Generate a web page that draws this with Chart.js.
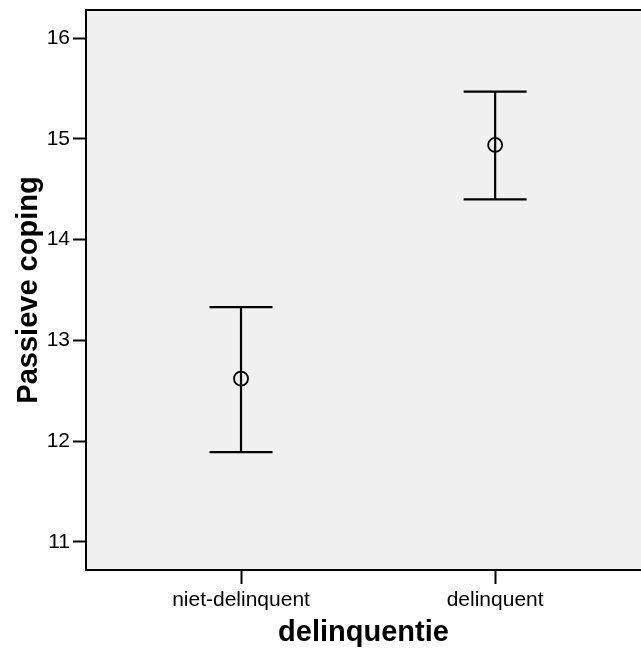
<!DOCTYPE html>
<html>
<head>
<meta charset="utf-8">
<script src="https://cdn.jsdelivr.net/npm/chart.js@4"></script>
<style>
  html, body { margin: 0; padding: 0; background: #fff; overflow: hidden; }
  canvas { display: block; }
</style>
</head>
<body>
<canvas id="grafico" width="641" height="650"></canvas>
<script>
const categorieen = ['niet-delinquent', 'delinquent'];
const gemiddelden = [12.62, 14.94];
const ondergrens = [11.89, 14.40];
const bovengrens = [13.33, 15.47];
const yTicks = [11, 12, 13, 14, 15, 16];

const fontFamily = '"Liberation Sans", Arial, sans-serif';

// achtergrond van het plotvlak + bovenrand
const kaderPlugin = {
  id: 'kader',
  beforeDraw(chart) {
    const { ctx, chartArea: a } = chart;
    ctx.save();
    ctx.fillStyle = '#f0f0f0';
    ctx.fillRect(a.left, a.top, a.right - a.left, a.bottom - a.top);
    ctx.restore();
  },
  afterDraw(chart) {
    const { ctx, chartArea: a } = chart;
    ctx.save();
    ctx.strokeStyle = '#000';
    ctx.lineWidth = 2;
    ctx.beginPath();
    ctx.moveTo(a.left - 1, a.top);
    ctx.lineTo(a.right, a.top);
    ctx.stroke();
    ctx.restore();
  }
};

// foutbalken uit onder- en bovengrens
const foutbalkPlugin = {
  id: 'foutbalk',
  beforeDatasetsDraw(chart) {
    const { ctx, scales: { x, y } } = chart;
    const halveKap = 31.5;
    ctx.save();
    ctx.strokeStyle = '#000';
    ctx.lineWidth = 2.2;
    categorieen.forEach((c, i) => {
      const px = x.getPixelForValue(i + 1);
      const yLaag = y.getPixelForValue(ondergrens[i]);
      const yHoog = y.getPixelForValue(bovengrens[i]);
      ctx.beginPath();
      ctx.moveTo(px, yLaag);
      ctx.lineTo(px, yHoog);
      ctx.moveTo(px - halveKap, yHoog);
      ctx.lineTo(px + halveKap, yHoog);
      ctx.moveTo(px - halveKap, yLaag);
      ctx.lineTo(px + halveKap, yLaag);
      ctx.stroke();
    });
    ctx.restore();
  }
};

const ctx = document.getElementById('grafico').getContext('2d');
const grafico = new Chart(ctx, {
  type: 'scatter',
  data: {
    datasets: [{
      label: 'Passieve coping',
      data: gemiddelden.map((v, i) => ({ x: i + 1, y: v })),
      pointRadius: 7,
      pointHoverRadius: 7,
      pointBorderWidth: 1.8,
      borderColor: '#000',
      backgroundColor: 'rgba(0,0,0,0)',
      pointStyle: 'circle'
    }]
  },
  options: {
    responsive: false,
    animation: false,
    layout: { autoPadding: false, padding: { top: 10, right: 0, bottom: 0, left: 0 } },
    plugins: { legend: { display: false }, tooltip: { enabled: false } },
    scales: {
      x: {
        type: 'linear',
        min: 0.39,
        max: 2.574,
        afterBuildTicks: (scale) => { scale.ticks = categorieen.map((c, i) => ({ value: i + 1 })); },
        afterFit: (scale) => { scale.height = 80; scale.paddingLeft = 0; scale.paddingRight = 0; },
        ticks: {
          callback: (v) => categorieen[v - 1],
          color: '#000',
          font: { family: fontFamily, size: 21 },
          padding: 4,
          maxRotation: 0
        },
        grid: { display: true, drawOnChartArea: false, drawTicks: true, tickLength: 14, tickWidth: 2, tickColor: '#000' },
        border: { display: true, color: '#000', width: 2 },
        title: {
          display: true,
          text: 'delinquentie',
          color: '#000',
          font: { family: fontFamily, size: 29, weight: 'bold' },
          padding: { top: 0, bottom: 0 }
        }
      },
      y: {
        min: 10.72,
        max: 16.28,
        afterBuildTicks: (scale) => { scale.ticks = yTicks.map(v => ({ value: v })); },
        afterFit: (scale) => { scale.width = 86; scale.paddingTop = 0; scale.paddingBottom = 0; },
        ticks: {
          color: '#000',
          font: { family: fontFamily, size: 21 },
          padding: 3
        },
        grid: { display: true, drawOnChartArea: false, drawTicks: true, tickLength: 13, tickWidth: 2, tickColor: '#000' },
        border: { display: true, color: '#000', width: 2 },
        title: {
          display: true,
          text: 'Passieve coping',
          color: '#000',
          font: { family: fontFamily, size: 29, weight: 'bold' },
          padding: { top: 12, bottom: 0 }
        }
      }
    }
  },
  plugins: [kaderPlugin, foutbalkPlugin]
});
</script>
</body>
</html>
